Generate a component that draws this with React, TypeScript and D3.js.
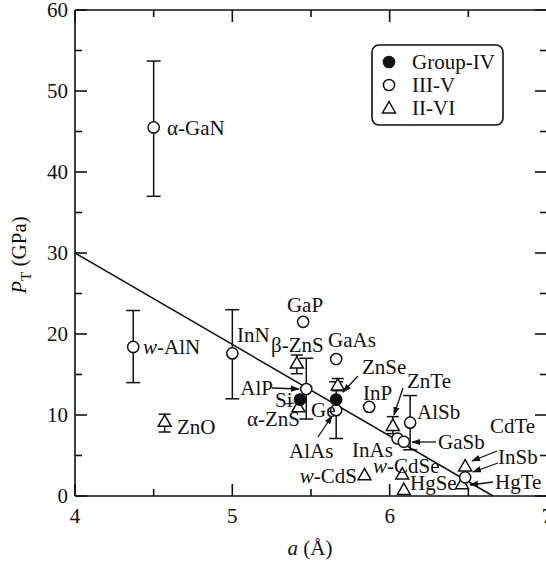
import React from "react";
import * as d3 from "d3";

// ---- data ----
const groupIV = ["Si", "Ge"];
const groupIV_a = [5.43, 5.66];
const groupIV_P = [11.9, 11.9];

const iiiV = ["α-GaN", "w-AlN", "InN", "GaP", "AlP", "GaAs", "AlAs", "InP", "InAs", "GaSb", "AlSb", "InSb"];
const iiiV_a = [4.5, 4.37, 5.0, 5.45, 5.47, 5.66, 5.66, 5.87, 6.05, 6.09, 6.13, 6.48];
const iiiV_P = [45.5, 18.4, 17.6, 21.5, 13.2, 16.9, 10.6, 11.0, 7.1, 6.7, 9.05, 2.3];
const iiiV_lo = [37.0, 14.0, 12.0, null, 9.5, null, 7.1, null, null, null, 5.7, null];
const iiiV_hi = [53.7, 22.9, 23.0, null, 17.0, null, 14.1, null, null, null, 12.4, null];

const iiVI = ["ZnO", "β-ZnS", "α-ZnS", "ZnSe", "ZnTe", "w-CdS", "w-CdSe", "HgSe", "CdTe", "HgTe"];
const iiVI_a = [4.57, 5.41, 5.42, 5.67, 6.02, 5.84, 6.08, 6.09, 6.48, 6.46];
const iiVI_P = [9.2, 16.4, 11.0, 13.7, 8.7, 2.6, 2.7, 0.8, 3.7, 1.5];
const iiVI_lo = [7.9, 15.1, null, 13.0, 7.7, null, null, null, null, null];
const iiVI_hi = [10.1, 17.4, null, 14.5, 9.8, null, null, null, null, null];

const fitLine_a = [4.0, 6.657];
const fitLine_P = [30, 0];

const yMajor = [0, 10, 20, 30, 40, 50, 60];
const yMinor = [5, 15, 25, 35, 45, 55];
const xMajor = [4, 5, 6, 7];
const xMinor = [4.5, 5.5, 6.5];

const legendLabels = ["Group-IV", "III-V", "II-VI"];

// ---- layout (pixel label placement) ----
type Lab = { t: string; x: number; y: number; anchor?: string; arrow?: [number, number, number, number] };
const labels: Lab[] = [
  { t: "α-GaN", x: 167, y: 128 },
  { t: "w-AlN", x: 143, y: 347 },
  { t: "InN", x: 237, y: 335 },
  { t: "GaP", x: 305, y: 305, anchor: "middle" },
  { t: "β-ZnS", x: 271, y: 345 },
  { t: "GaAs", x: 328, y: 340 },
  { t: "ZnSe", x: 362, y: 367, arrow: [358, 376, 343, 392] },
  { t: "AlP", x: 273, y: 388, anchor: "end", arrow: [272, 388, 299, 389] },
  { t: "Si", x: 275, y: 400 },
  { t: "α-ZnS", x: 247, y: 419 },
  { t: "Ge", x: 311, y: 410 },
  { t: "InP", x: 363, y: 393 },
  { t: "AlAs", x: 289, y: 451, arrow: [318, 437, 332, 416] },
  { t: "InAs", x: 352, y: 450 },
  { t: "ZnTe", x: 407, y: 381, arrow: [403, 388, 394, 415] },
  { t: "AlSb", x: 417, y: 412 },
  { t: "GaSb", x: 438, y: 442, arrow: [436, 442, 412, 442] },
  { t: "CdTe", x: 490, y: 426, arrow: [497, 451, 472, 461] },
  { t: "InSb", x: 498, y: 457, arrow: [498, 463, 473, 472] },
  { t: "HgTe", x: 495, y: 482, arrow: [493, 482, 470, 485] },
  { t: "w-CdSe", x: 373, y: 466 },
  { t: "HgSe", x: 410, y: 483 },
  { t: "w-CdS", x: 357, y: 476, anchor: "end" },
  { t: "ZnO", x: 177, y: 427 },
];

const W = 546;
const H = 563;
const FONT = "Liberation Serif";
const FS = 21;

const x = d3.scaleLinear().domain([4, 7]).range([75, 547]);
const y = d3.scaleLinear().domain([0, 60]).range([496, 10]);

function Circle({ cx, cy, filled }: { cx: number; cy: number; filled?: boolean }) {
  return <circle cx={cx} cy={cy} r={5.6} fill={filled ? "#111" : "#fff"} stroke="#111" strokeWidth={1.5} />;
}
function Tri({ cx, cy }: { cx: number; cy: number }) {
  const s = 6.5;
  const p = `M${cx},${cy - s} L${cx + s},${cy + s * 0.75} L${cx - s},${cy + s * 0.75} Z`;
  return <path d={p} fill="#fff" stroke="#111" strokeWidth={1.5} />;
}
function ErrBar({ a, lo, hi, cap }: { a: number; lo: number; hi: number; cap: number }) {
  const px = x(a);
  return (
    <g stroke="#111" strokeWidth={1.5}>
      <line x1={px} x2={px} y1={y(lo)} y2={y(hi)} />
      <line x1={px - cap} x2={px + cap} y1={y(lo)} y2={y(lo)} />
      <line x1={px - cap} x2={px + cap} y1={y(hi)} y2={y(hi)} />
    </g>
  );
}

function LabelText({ t }: { t: string }) {
  if (t.startsWith("w-")) {
    return (
      <>
        <tspan fontStyle="italic">w</tspan>
        <tspan>{t.slice(1)}</tspan>
      </>
    );
  }
  return <>{t}</>;
}

export default function App() {
  const line = d3.line<number>().x((d, i) => x(fitLine_a[i])).y((d, i) => y(fitLine_P[i]));
  return (
    <svg width={W} height={H} style={{ position: "absolute", left: 0, top: 0, background: "#fff", fontFamily: FONT }}>
      <defs>
        <marker id="ah" viewBox="0 0 10 10" refX="9" refY="5" markerWidth="9" markerHeight="9" markerUnits="userSpaceOnUse" orient="auto">
          <path d="M0,1.5 L10,5 L0,8.5 Z" fill="#111" />
        </marker>
      </defs>
      <rect width={W} height={H} fill="#fff" />
      {/* frame */}
      <g stroke="#111" strokeWidth={1.6} fill="none">
        <line x1={x(4)} x2={x(7)} y1={y(0)} y2={y(0)} />
        <line x1={x(4)} x2={x(7)} y1={y(60)} y2={y(60)} />
        <line x1={x(4)} x2={x(4)} y1={y(0)} y2={y(60)} />
        <line x1={x(7)} x2={x(7)} y1={y(0)} y2={y(60)} />
        {yMajor.map((v) => (
          <g key={"ym" + v}>
            <line x1={x(4)} x2={x(4) + 12} y1={y(v)} y2={y(v)} />
            <line x1={x(7)} x2={x(7) - 12} y1={y(v)} y2={y(v)} />
          </g>
        ))}
        {yMinor.map((v) => (
          <g key={"yn" + v}>
            <line x1={x(4)} x2={x(4) + 7} y1={y(v)} y2={y(v)} />
            <line x1={x(7)} x2={x(7) - 7} y1={y(v)} y2={y(v)} />
          </g>
        ))}
        {xMajor.map((v) => (
          <g key={"xm" + v}>
            <line x1={x(v)} x2={x(v)} y1={y(0)} y2={y(0) - 12} />
            <line x1={x(v)} x2={x(v)} y1={y(60)} y2={y(60) + 12} />
          </g>
        ))}
        {xMinor.map((v) => (
          <g key={"xn" + v}>
            <line x1={x(v)} x2={x(v)} y1={y(0)} y2={y(0) - 7} />
            <line x1={x(v)} x2={x(v)} y1={y(60)} y2={y(60) + 7} />
          </g>
        ))}
      </g>
      {/* tick labels */}
      <g fontSize={FS} fill="#111">
        {yMajor.map((v) => (
          <text key={"yl" + v} x={68} y={y(v)} dy="0.35em" textAnchor="end">
            {v}
          </text>
        ))}
        {xMajor.map((v) => (
          <text key={"xl" + v} x={x(v)} y={523} textAnchor="middle">
            {v}
          </text>
        ))}
      </g>
      {/* axis titles */}
      <text x={310} y={555} fontSize={FS} textAnchor="middle" fill="#111">
        <tspan fontStyle="italic">a</tspan> (Å)
      </text>
      <text transform="translate(26,255) rotate(-90)" fontSize={FS} textAnchor="middle" fill="#111">
        <tspan fontStyle="italic">P</tspan>
        <tspan fontSize={15} dy="5">T</tspan>
        <tspan dy="-5"> (GPa)</tspan>
      </text>
      {/* fit line */}
      <path d={line(fitLine_P) || ""} fill="none" stroke="#111" strokeWidth={1.5} />
      {/* error bars */}
      {iiiV.map((n, i) =>
        iiiV_lo[i] != null ? <ErrBar key={"e3" + n} a={iiiV_a[i]} lo={iiiV_lo[i] as number} hi={iiiV_hi[i] as number} cap={7} /> : null
      )}
      {iiVI.map((n, i) =>
        iiVI_lo[i] != null ? <ErrBar key={"e2" + n} a={iiVI_a[i]} lo={iiVI_lo[i] as number} hi={iiVI_hi[i] as number} cap={6} /> : null
      )}
      {/* markers */}
      {iiVI.map((n, i) => (
        <Tri key={"t" + n} cx={x(iiVI_a[i])} cy={y(iiVI_P[i])} />
      ))}
      {iiiV.map((n, i) => (
        <Circle key={"c" + n} cx={x(iiiV_a[i])} cy={y(iiiV_P[i])} />
      ))}
      {groupIV.map((n, i) => (
        <Circle key={"g" + n} cx={x(groupIV_a[i])} cy={y(groupIV_P[i])} filled />
      ))}
      {/* labels */}
      <g fontSize={FS} fill="#111">
        {labels.map((l) => (
          <g key={"lab" + l.t}>
            <text x={l.x} y={l.y} dy="0.35em" textAnchor={l.anchor || "start"}>
              <LabelText t={l.t} />
            </text>
            {l.arrow && (
              <line
                x1={l.arrow[0]}
                y1={l.arrow[1]}
                x2={l.arrow[2]}
                y2={l.arrow[3]}
                stroke="#111"
                strokeWidth={1.3}
                markerEnd="url(#ah)"
              />
            )}
          </g>
        ))}
        <line x1={285} y1={404} x2={294} y2={403} stroke="#111" strokeWidth={1.2} />
      </g>
      {/* legend */}
      <g>
        <rect x={372} y={45} width={131} height={80} rx={7} fill="#fff" stroke="#111" strokeWidth={1.6} />
        {legendLabels.map((t, i) => {
          const cy = 62 + i * 23;
          return (
            <g key={"lg" + t}>
              {i === 0 && <Circle cx={389} cy={cy} filled />}
              {i === 1 && <Circle cx={389} cy={cy} />}
              {i === 2 && <Tri cx={389} cy={cy} />}
              <text x={412} y={cy} dy="0.35em" fontSize={FS} fill="#111">
                {t}
              </text>
            </g>
          );
        })}
      </g>
    </svg>
  );
}
